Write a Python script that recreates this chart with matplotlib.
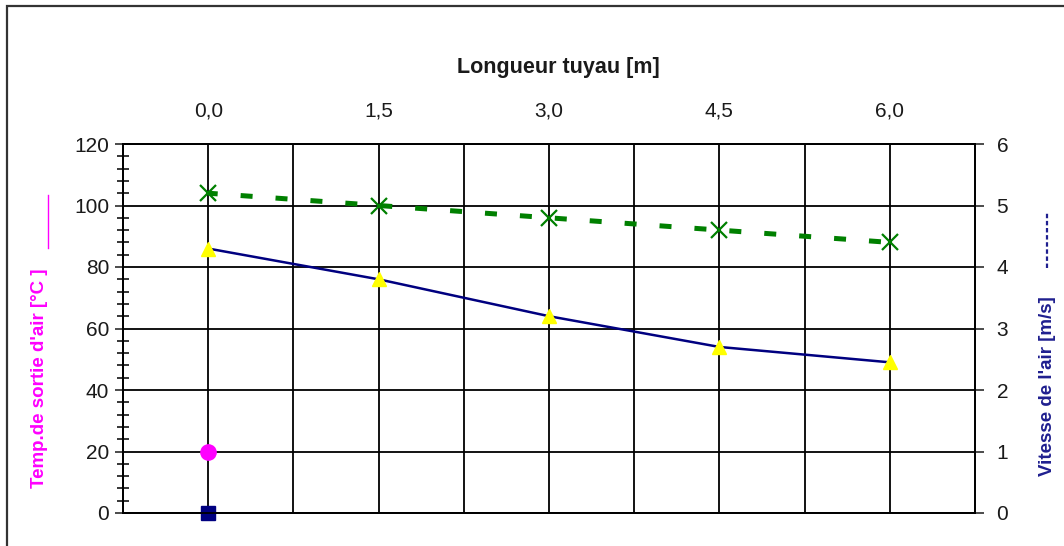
import matplotlib
matplotlib.use("Agg")
import matplotlib.pyplot as plt
from matplotlib.lines import Line2D
from matplotlib.patches import Rectangle
from matplotlib.ticker import MultipleLocator, FixedLocator

plt.rcParams['font.family'] = ['Liberation Sans', 'DejaVu Sans']

# data
length_m = [0.0, 1.5, 3.0, 4.5, 6.0]
length_labels = ['0,0', '1,5', '3,0', '4,5', '6,0']
temp_sortie = [86, 76, 64, 54, 49]          # left axis, blue line + yellow triangles
vitesse_air = [5.2, 5.0, 4.8, 4.6, 4.4]     # right axis, green dashed
temp_entree_x = [0.0]
temp_entree = [20]                           # magenta dot
origin_x = [0.0]
origin_y = [0]                               # navy square

W, H = 1064, 546
fig = plt.figure(figsize=(W / 100, H / 100), dpi=100)
ax = fig.add_axes([123 / W, 1 - 513 / H, (975 - 123) / W, (513 - 144) / H])
ax2 = ax.twinx()

# left axis
ax.set_xlim(-0.75, 6.75)
ax.set_ylim(0, 120)
ax.yaxis.set_major_locator(MultipleLocator(20))
ax.yaxis.set_minor_locator(MultipleLocator(4))
ax.tick_params(axis='y', which='major', direction='inout', length=12, width=1.1,
               labelsize=15, pad=4, colors='#1a1a1a')
ax.tick_params(axis='y', which='minor', direction='inout', length=8, width=1.1)

# x axis on top, grid every 0.75
ax.xaxis.set_major_locator(FixedLocator(length_m))
ax.xaxis.set_minor_locator(FixedLocator([0.75, 2.25, 3.75, 5.25]))
ax.set_xticklabels(length_labels)
ax.xaxis.tick_top()
ax.tick_params(axis='x', which='both', length=0, labelsize=15, pad=17, colors='#1a1a1a')
ax.grid(True, axis='x', which='both', color='black', lw=1.3)
ax.grid(True, axis='y', which='major', color='black', lw=1.3)
ax.set_axisbelow(True)

# right axis
ax2.set_ylim(0, 6)
ax2.yaxis.set_major_locator(MultipleLocator(1))
ax2.tick_params(axis='y', direction='out', length=6.5, width=1.1, labelsize=15,
                pad=9, colors='#1a1a1a')

for a in (ax, ax2):
    for s in a.spines.values():
        s.set_linewidth(1.3)
        s.set_color('black')

# series
ax.plot(length_m, temp_sortie, color='#000080', lw=1.8, zorder=3)
ax.plot(length_m, temp_sortie, ls='none', marker='^', ms=10, color='#FFFF00',
        mec='#FFFF00', zorder=4)
ax.plot(temp_entree_x, temp_entree, ls='none', marker='o', ms=11, color='#FF00FF', zorder=4)
ax.plot(origin_x, origin_y, ls='none', marker='s', ms=10, color='#000080',
        clip_on=False, zorder=5)
ax2.plot(length_m, vitesse_air, color='#008000', lw=3.6, ls=(0.5, (2.4, 4.6)),
         marker='x', ms=11, mew=1.6, zorder=4)

# titles and axis labels
fig.text(558 / W, 1 - 67 / H, 'Longueur tuyau [m]', ha='center', va='center',
         fontsize=15.5, fontweight='bold', color='#1a1a1a')
fig.text(40 / W, 1 - 378 / H, "Temp.de sortie d'air [°C ]", rotation=90,
         ha='center', va='center', fontsize=13.5, fontweight='bold', color='#FF00FF')
fig.text(1048 / W, 1 - 386 / H, "Vitesse de l'air [m/s]", rotation=90,
         ha='center', va='center', fontsize=13.5, fontweight='bold', color='#1f1f8f')
fig.add_artist(Line2D([48 / W, 48 / W], [1 - 248 / H, 1 - 195 / H],
                      transform=fig.transFigure, color='#FF00FF', lw=1.0))
fig.add_artist(Line2D([1047 / W, 1047 / W], [1 - 268 / H, 1 - 212 / H],
                      transform=fig.transFigure, color='#1f1f8f', lw=1.6,
                      ls=(0, (2, 1.2))))

# outer frame
fig.add_artist(Rectangle((7 / W, -0.05), 1.1, 1 - 6 / H + 0.05, transform=fig.transFigure,
                         fill=False, lw=1.6, ec='#333333'))

fig.savefig('out.png', dpi=100)
